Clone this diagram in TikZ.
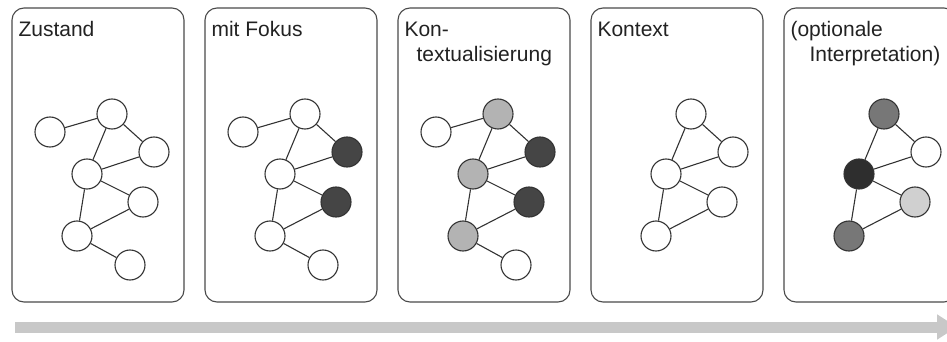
\documentclass[tikz,border=0pt]{standalone}
\usepackage{fontspec}
\setmainfont{Liberation Sans}
\usepackage{tikz}
\usetikzlibrary{arrows.meta}

\definecolor{rim}{HTML}{333333}
\definecolor{framegray}{HTML}{4A4A4A}
\definecolor{textgray}{HTML}{222222}
\definecolor{focusgray}{HTML}{454545}
\definecolor{ctxgray}{HTML}{B3B3B3}
\definecolor{midgray}{HTML}{777777}
\definecolor{blackish}{HTML}{2E2E2E}
\definecolor{palegray}{HTML}{D0D0D0}
\definecolor{arrowgray}{HTML}{C8C8C8}

\begin{document}
\begin{tikzpicture}[x=1pt,y=-1pt,line width=1.1pt,every edge/.style={draw=rim}]
\tikzstyle{v}=[circle,draw=rim,fill=white,minimum size=30pt,inner sep=0pt]
\tikzstyle{dk}=[v,fill=focusgray]
\tikzstyle{lg}=[v,fill=ctxgray]
\tikzstyle{frame}=[draw=framegray,rounded corners=12pt,minimum width=172pt,minimum height=294pt,inner sep=0pt]
\tikzstyle{title}=[font=\fontsize{21}{25}\selectfont,text=textgray,inner sep=0pt,anchor=base west]

\useasboundingbox (0,0) rectangle (947,342);

% Zustand
\node[frame]	(Zbox)	at (98,155)		{};
\node[title]	(Zt)	at (18,37)		{Zustand};
\node[v]	(ZA)	at (50,132)		{};
\node[v]	(ZB)	at (112,114)	{};
\node[v]	(ZC)	at (154,152)	{};
\node[v]	(ZD)	at (87,174)		{};
\node[v]	(ZE)	at (143,202)	{};
\node[v]	(ZF)	at (77,236)		{};
\node[v]	(ZG)	at (130,265)	{};

% mit Fokus
\node[frame]	(Fbox)	at (291,155)	{};
\node[title]	(Ft)	at (211,37)		{mit Fokus};
\node[v]	(FA)	at (243,132)	{};
\node[v]	(FB)	at (305,114)	{};
\node[dk]	(FC)	at (347,152)	{};
\node[v]	(FD)	at (280,174)	{};
\node[dk]	(FE)	at (336,202)	{};
\node[v]	(FF)	at (270,236)	{};
\node[v]	(FG)	at (323,265)	{};

% Kontextualisierung
\node[frame]	(Kbox)	at (484,155)	{};
\node[title]	(Kt)	at (404,37)		{Kon-};
\node[title]	(Kt2)	at (416,62)		{textualisierung};
\node[v]	(KA)	at (436,132)	{};
\node[lg]	(KB)	at (498,114)	{};
\node[dk]	(KC)	at (540,152)	{};
\node[lg]	(KD)	at (473,174)	{};
\node[dk]	(KE)	at (529,202)	{};
\node[lg]	(KF)	at (463,236)	{};
\node[v]	(KG)	at (516,265)	{};

% Kontext
\node[frame]	(Cbox)	at (677,155)	{};
\node[title]	(Ct)	at (597,37)		{Kontext};
\node[v]	(CB)	at (691,114)	{};
\node[v]	(CC)	at (733,152)	{};
\node[v]	(CD)	at (666,174)	{};
\node[v]	(CE)	at (722,202)	{};
\node[v]	(CF)	at (656,236)	{};

% optionale Interpretation
\node[frame]	(Ibox)	at (870,155)	{};
\node[title]	(It)	at (790,37)		{(optionale};
\node[title]	(It2)	at (809,62)		{Interpretation)};
\node[v,fill=midgray]	(IB)	at (884,114)	{};
\node[v]	(IC)	at (926,152)	{};
\node[v,fill=blackish]	(ID)	at (859,174)	{};
\node[v,fill=palegray]	(IE)	at (915,202)	{};
\node[v,fill=midgray]	(IF)	at (849,236)	{};

\path(ZA) edge (ZB)  (ZB) edge (ZC)  (ZB) edge (ZD)  (ZC) edge (ZD)
	 (ZD) edge (ZE)  (ZD) edge (ZF)  (ZE) edge (ZF)  (ZF) edge (ZG)
	 (FA) edge (FB)  (FB) edge (FC)  (FB) edge (FD)  (FC) edge (FD)
	 (FD) edge (FE)  (FD) edge (FF)  (FE) edge (FF)  (FF) edge (FG)
	 (KA) edge (KB)  (KB) edge (KC)  (KB) edge (KD)  (KC) edge (KD)
	 (KD) edge (KE)  (KD) edge (KF)  (KE) edge (KF)  (KF) edge (KG)
	 (CB) edge (CC)  (CB) edge (CD)  (CC) edge (CD)
	 (CD) edge (CE)  (CD) edge (CF)  (CE) edge (CF)
	 (IB) edge (IC)  (IB) edge (ID)  (IC) edge (ID)
	 (ID) edge (IE)  (ID) edge (IF)  (IE) edge (IF);

% Zeitachse
\coordinate (t0) at (15,327);
\coordinate (t1) at (957,327);
\draw[line width=11pt,arrowgray,-{Triangle[length=20pt,width=24pt]}] (t0) -- (t1);
\end{tikzpicture}
\end{document}
